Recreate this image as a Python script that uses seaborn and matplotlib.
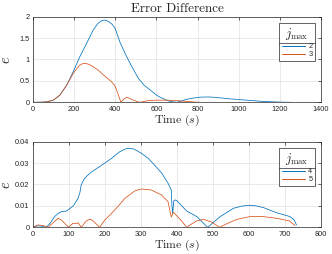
import numpy as np
import pandas as pd
import matplotlib
matplotlib.use("Agg")
import matplotlib.pyplot as plt
import seaborn as sns
from matplotlib.ticker import FuncFormatter
from matplotlib.lines import Line2D

# ---------------- data ----------------
# top panel, j_max = 2
t2 = [0, 40, 66, 99, 131, 164, 196, 228, 261, 293, 315, 334, 350, 366, 385, 399,
      423, 450, 472, 512, 540, 569, 600, 617, 645, 666, 690, 698, 720, 747, 780,
      812, 850, 876, 920, 958, 1000, 1039, 1080, 1120, 1160, 1200, 1230, 1257]
e2 = [0, 0.003, 0.01, 0.05, 0.17, 0.40, 0.72, 1.07, 1.38, 1.69, 1.84, 1.91, 1.92,
      1.89, 1.82, 1.73, 1.40, 1.12, 0.91, 0.56, 0.40, 0.29, 0.17, 0.12, 0.06, 0.02,
      0.005, 0.0, 0.03, 0.07, 0.10, 0.12, 0.125, 0.12, 0.10, 0.08, 0.065, 0.05,
      0.035, 0.02, 0.012, 0.005, 0.002, 0]
# top panel, j_max = 3
t3 = [0, 40, 66, 99, 131, 164, 196, 215, 228, 240, 253, 270, 293, 320, 342, 365,
      382, 399, 410, 420, 428, 440, 455, 470, 488, 500, 512, 520, 540, 560, 600,
      650, 700, 750, 790, 812]
e3 = [0, 0.003, 0.01, 0.05, 0.17, 0.40, 0.68, 0.80, 0.87, 0.90, 0.91, 0.89, 0.83,
      0.74, 0.64, 0.55, 0.48, 0.38, 0.24, 0.10, 0.0, 0.07, 0.12, 0.09, 0.05, 0.03,
      0.01, 0.0, 0.02, 0.04, 0.05, 0.05, 0.04, 0.02, 0.005, 0]
# bottom panel, j_max = 4
t4 = [0, 8, 14, 22, 30, 37, 48, 60, 70, 79, 93, 101, 112, 125, 130, 134, 140, 148,
      160, 171, 195, 218, 240, 255, 264, 280, 301, 320, 338, 358, 375, 381, 384,
      386, 388, 391, 395, 400, 427, 455, 485, 520, 557, 580, 599, 620, 640, 677,
      714, 725, 732]
e4 = [0, 0.0005, 0.0007, 0.0006, 0.0002, 0, 0.002, 0.005, 0.0065, 0.0073, 0.0076,
      0.0086, 0.010, 0.0135, 0.016, 0.0198, 0.022, 0.0237, 0.0255, 0.0268, 0.0295,
      0.0322, 0.0352, 0.0365, 0.0369, 0.0366, 0.0346, 0.0322, 0.029, 0.0252,
      0.0206, 0.0185, 0.0174, 0.010, 0.0065, 0.0123, 0.0128, 0.0124, 0.0076,
      0.005, 0.0, 0.005, 0.0089, 0.0099, 0.0103, 0.0100, 0.0092, 0.0068, 0.005,
      0.0035, 0.0011]
# bottom panel, j_max = 5
t5 = [0, 8, 14, 28, 35, 42, 55, 70, 79, 90, 99, 111, 120, 125, 134, 148, 158, 167,
      185, 200, 218, 240, 255, 283, 301, 329, 357, 375, 384, 390, 397, 410, 427,
      440, 455, 474, 497, 518, 540, 566, 603, 640, 677, 712, 728]
e5 = [0, 0.0007, 0.0011, 0.0008, 0.0005, 0.0, 0.002, 0.0042, 0.0034, 0.0015, 0.0,
      0.0019, 0.0017, 0.0022, 0.0, 0.003, 0.0038, 0.003, 0.0, 0.0035, 0.0065,
      0.0105, 0.0135, 0.017, 0.0179, 0.0174, 0.0151, 0.012, 0.0048, 0.007, 0.0058,
      0.0035, 0.0, 0.0015, 0.003, 0.0037, 0.0024, 0.0, 0.0018, 0.0037, 0.005,
      0.005, 0.0042, 0.003, 0.0008]

top_labels = ["2", "3"]
bottom_labels = ["4", "5"]
top_xticks = [0, 200, 400, 600, 800, 1000, 1200, 1400]
top_yticks = [0, 0.5, 1, 1.5, 2]
bot_xticks = [0, 100, 200, 300, 400, 500, 600, 700, 800]
bot_yticks = [0, 0.01, 0.02, 0.03, 0.04]

# ---------------- style ----------------
sns.set_style("whitegrid")
plt.rcParams.update({
    "font.family": ["Liberation Sans", "DejaVu Sans"],
    "mathtext.fontset": "cm",
    "axes.edgecolor": "#262626",
    "axes.linewidth": 0.5,
    "grid.color": "#e1e1e1",
    "grid.linewidth": 0.5,
    "xtick.color": "#262626",
    "ytick.color": "#262626",
})

BLUE = "#0072BD"
ORANGE = "#D95319"
LW = 0.55

fig = plt.figure(figsize=(3.32, 2.54), dpi=100)
ax1 = fig.add_axes([0.0994, 0.5972, 0.8675, 0.3371])
ax2 = fig.add_axes([0.0994, 0.1051, 0.8675, 0.3371])

df_top = pd.concat([
    pd.DataFrame({"t": t2, "e": e2, "j": top_labels[0]}),
    pd.DataFrame({"t": t3, "e": e3, "j": top_labels[1]}),
])
df_bot = pd.concat([
    pd.DataFrame({"t": t4, "e": e4, "j": bottom_labels[0]}),
    pd.DataFrame({"t": t5, "e": e5, "j": bottom_labels[1]}),
])

sns.lineplot(data=df_top, x="t", y="e", hue="j", palette=[BLUE, ORANGE],
             estimator=None, sort=False, linewidth=LW, ax=ax1, legend=False)
sns.lineplot(data=df_bot, x="t", y="e", hue="j", palette=[BLUE, ORANGE],
             estimator=None, sort=False, linewidth=LW, ax=ax2, legend=False)

fmt = FuncFormatter(lambda v, p: f"{v:g}")


def style(ax, xt, yt, labels):
    ax.set_xlim(xt[0], xt[-1])
    ax.set_ylim(yt[0], yt[-1])
    ax.set_xticks(xt)
    ax.set_yticks(yt)
    ax.xaxis.set_major_formatter(fmt)
    ax.yaxis.set_major_formatter(fmt)
    ax.tick_params(direction="in", top=True, right=True, length=2.5, width=0.5,
                   labelsize=5.3, pad=2.5)
    for s in ax.spines.values():
        s.set_visible(True)
        s.set_color("#262626")
        s.set_linewidth(0.5)
    ax.grid(True)
    ax.set_xlabel(r"$\mathrm{Time}\ (s)$", fontsize=8.5, labelpad=0)
    ax.set_ylabel(r"$e$", fontsize=10.5)
    ax.yaxis.set_label_coords(-0.07, 0.5)
    h = [Line2D([], [], color=c, linewidth=0.7) for c in (BLUE, ORANGE)]
    leg = ax.legend(h, labels, title=r"$j_{\max}$", loc="upper right",
                    bbox_to_anchor=(0.979, 0.923), borderaxespad=0,
                    fontsize=5.3, title_fontsize=9, handlelength=3.2,
                    handletextpad=0.4, borderpad=0.35, labelspacing=0.15,
                    fancybox=False, framealpha=1, edgecolor="#262626")
    leg.get_frame().set_linewidth(0.5)
    return leg


leg1 = style(ax1, top_xticks, top_yticks, top_labels)
leg2 = style(ax2, bot_xticks, bot_yticks, bottom_labels)
ax1.set_title("Error Difference", fontfamily="cmr10", fontsize=9.5, pad=3.5)

# separator line under legend titles
fig.canvas.draw()
inv = fig.transFigure.inverted()
for leg in (leg1, leg2):
    fb = leg.get_frame().get_window_extent()
    tb = leg.get_title().get_window_extent()
    y = tb.y0 - 1.5
    (x0, yy), (x1, _) = inv.transform([(fb.x0, y), (fb.x1, y)])
    fig.add_artist(Line2D([x0, x1], [yy, yy], color="#262626", linewidth=0.5,
                          transform=fig.transFigure))

fig.savefig("out.png", dpi=100)
